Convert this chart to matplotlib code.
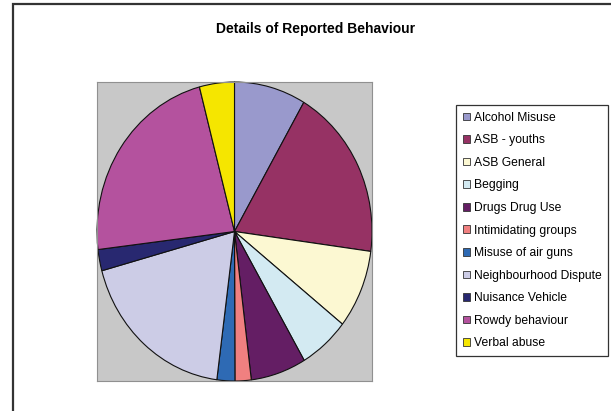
import matplotlib.pyplot as plt
from matplotlib.patches import Rectangle

plt.rcParams['font.family'] = ['Liberation Sans', 'DejaVu Sans']

# share of reports per category (percent)
categories = ["Alcohol Misuse", "ASB - youths", "ASB General", "Begging",
              "Drugs Drug Use", "Intimidating groups", "Misuse of air guns",
              "Neighbourhood Dispute", "Nuisance Vehicle", "Rowdy behaviour",
              "Verbal abuse"]
values = [8.4, 18.7, 8.5, 5.9, 6.5, 1.9, 2.1, 18.7, 2.3, 22.8, 4.1]
colors = ["#9999cc", "#963264", "#fcf8d2", "#d3eaf2", "#641e64", "#f08080",
          "#2e6ab4", "#ccccE6", "#282870", "#b4529e", "#f5e600"]

W, H = 611, 411
fig = plt.figure(figsize=(W / 100, H / 100), dpi=100)

# outer chart frame (runs off the right and bottom edges)
fig.add_artist(Rectangle((12.5 / W, -0.05), 1.2, 1.05 - 4.5 / H,
                         transform=fig.transFigure, fill=False,
                         lw=1.6, ec="#333333"))

fig.text(316 / W, 1 - 29.5 / H, "Details of Reported Behaviour",
         ha="center", va="center", fontsize=10, fontweight="bold")

# plot area
ax = fig.add_axes([97 / W, 30 / H, 275 / W, 299 / H])
wedges, _ = ax.pie(values, colors=colors, startangle=90, counterclock=False,
                   wedgeprops=dict(edgecolor="#111111", linewidth=0.8))
ax.set_aspect("auto")
ax.set_xlim(-1.0, 1.0)
ax.set_ylim(-1.0, 1.0)
ax.set_frame_on(True)
ax.set_facecolor("#c8c8c8")
for s in ax.spines.values():
    s.set_color("#909090")
    s.set_linewidth(0.8)
ax.set_xticks([])
ax.set_yticks([])

leg = fig.legend(wedges, categories, loc="upper left",
                 bbox_to_anchor=(456 / W, 1 - 105 / H),
                 fontsize=8.7, frameon=True, fancybox=False,
                 handlelength=0.6, handleheight=0.6, handletextpad=0.3,
                 labelspacing=0.875, borderpad=0.55, borderaxespad=0)
leg.get_frame().set_edgecolor("#000000")
leg.get_frame().set_linewidth(0.9)
for h in leg.legend_handles:
    h.set_linewidth(0.6)
    h.set_edgecolor("#333333")

fig.savefig("out.png", dpi=100)
